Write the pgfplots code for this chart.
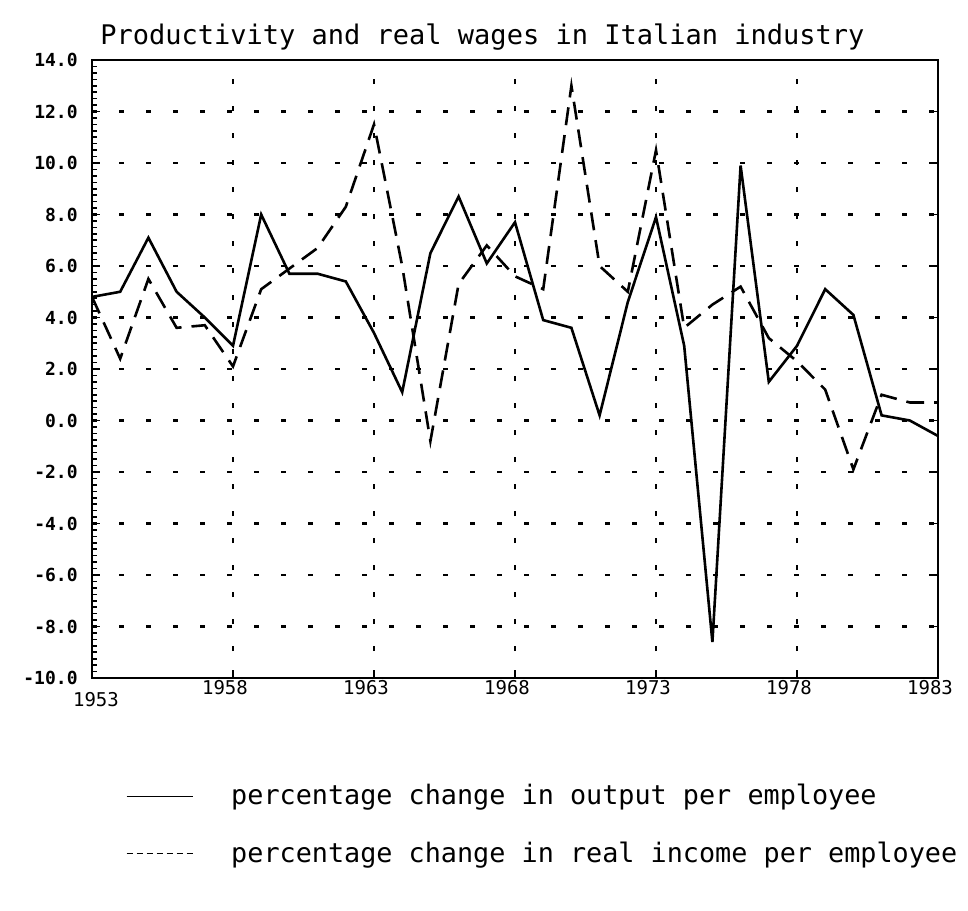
\documentclass[border=0pt]{standalone}
\usepackage{fontspec}
\setmainfont{DejaVu Sans Mono}
\usepackage{pgfplots}
\usepackage{pgfplotstable}
\pgfplotsset{compat=1.18}
\pgfplotstableread{
year val
1953 4.8
1954 5.0
1955 7.1
1956 5.0
1957 4.0
1958 2.9
1959 8.0
1960 5.7
1961 5.7
1962 5.4
1963 3.4
1964 1.1
1965 6.5
1966 8.7
1967 6.1
1968 7.7
1969 3.9
1970 3.6
1971 0.2
1972 4.6
1973 7.9
1974 2.9
1975 -8.6
1976 9.9
1977 1.5
1978 2.9
1979 5.1
1980 4.1
1981 0.2
1982 0.0
1983 -0.6
}\output
\pgfplotstableread{
year val
1953 4.8
1954 2.4
1955 5.5
1956 3.6
1957 3.7
1958 2.1
1959 5.1
1960 5.9
1961 6.7
1962 8.3
1963 11.5
1964 6.0
1965 -0.8
1966 5.3
1967 6.8
1968 5.6
1969 5.1
1970 13.0
1971 6.0
1972 5.0
1973 10.5
1974 3.6
1975 4.5
1976 5.2
1977 3.2
1978 2.3
1979 1.2
1980 -1.9
1981 1.0
1982 0.7
1983 0.7
}\income
\begin{document}
\begin{tikzpicture}
\path[use as bounding box] (0pt,0pt) rectangle (484pt,-455pt);
\node[anchor=base west, inner sep=0pt, font=\fontsize{13.5}{16}\selectfont] at (50pt,-22pt) {Productivity and real wages in Italian industry};
\begin{axis}[
  at={(46pt,-339pt)}, anchor=south west,
  width=423pt, height=309pt, scale only axis,
  xmin=1953, xmax=1983, ymin=-10, ymax=14,
  xtick={1958,1963,1968,1973,1978,1983},
  xticklabels={1958,1963,1968,1973,1978,1983},
  extra x ticks={1953},
  extra x tick labels={1953},
  extra x tick style={xticklabel style={yshift=-6pt, xshift=6pt}},
  ytick={-10,-8,-6,-4,-2,0,2,4,6,8,10,12,14},
  minor y tick num=7,
  ytick pos=left, xtick pos=bottom,
  tick align=inside,
  major tick length=4pt, minor tick length=2.5pt,
  every tick/.style={black, line width=0.8pt},
  axis line style={line width=1.2pt},
  /pgf/number format/assume math mode=true,
  yticklabel style={/pgf/number format/.cd, fixed, fixed zerofill, precision=1, /tikz/.cd,
    font=\fontsize{9}{10}\selectfont\bfseries, inner sep=0pt, xshift=-7pt},
  xticklabel style={font=\fontsize{9.5}{11}\selectfont, inner sep=0pt, yshift=-1pt, xshift=-4pt},
  xmajorgrids, ymajorgrids,
  major grid style={black, line width=1.2pt, dash pattern=on 2.5pt off 11pt},
  legend style={at={(axis description cs:0.04,-0.165)}, anchor=north west, draw=none, fill=none,
    font=\fontsize{13.4}{16}\selectfont, row sep=13pt, inner sep=0pt,
    /tikz/every odd column/.append style={column sep=17pt}},
  legend cell align=left,
  legend image code/.code={\draw[#1] (0pt,0pt) -- (33pt,0pt);},
]
\addplot[black, line width=1.3pt, legend image post style={line width=0.5pt}] table[x=year, y=val] {\output};
\addlegendentry{percentage change in output per employee}
\addplot[black, line width=1.3pt, dash pattern=on 9pt off 5pt, legend image post style={line width=0.5pt, dash pattern=on 3pt off 2pt}] table[x=year, y=val] {\income};
\addlegendentry{percentage change in real income per employee}
\end{axis}
\begin{axis}[
  at={(46pt,-339pt)}, anchor=south west,
  width=423pt, height=309pt, scale only axis,
  xmin=1953, xmax=1983, ymin=-10, ymax=14,
  hide x axis, axis y line*=right,
  ytick={-8,-6,-4,-2,0,2,4,6,8,10,12},
  yticklabels={},
  tick align=inside, major tick length=4pt,
  every tick/.style={black, line width=0.8pt},
  axis line style={line width=1.2pt},
]
\end{axis}
\end{tikzpicture}
\end{document}
